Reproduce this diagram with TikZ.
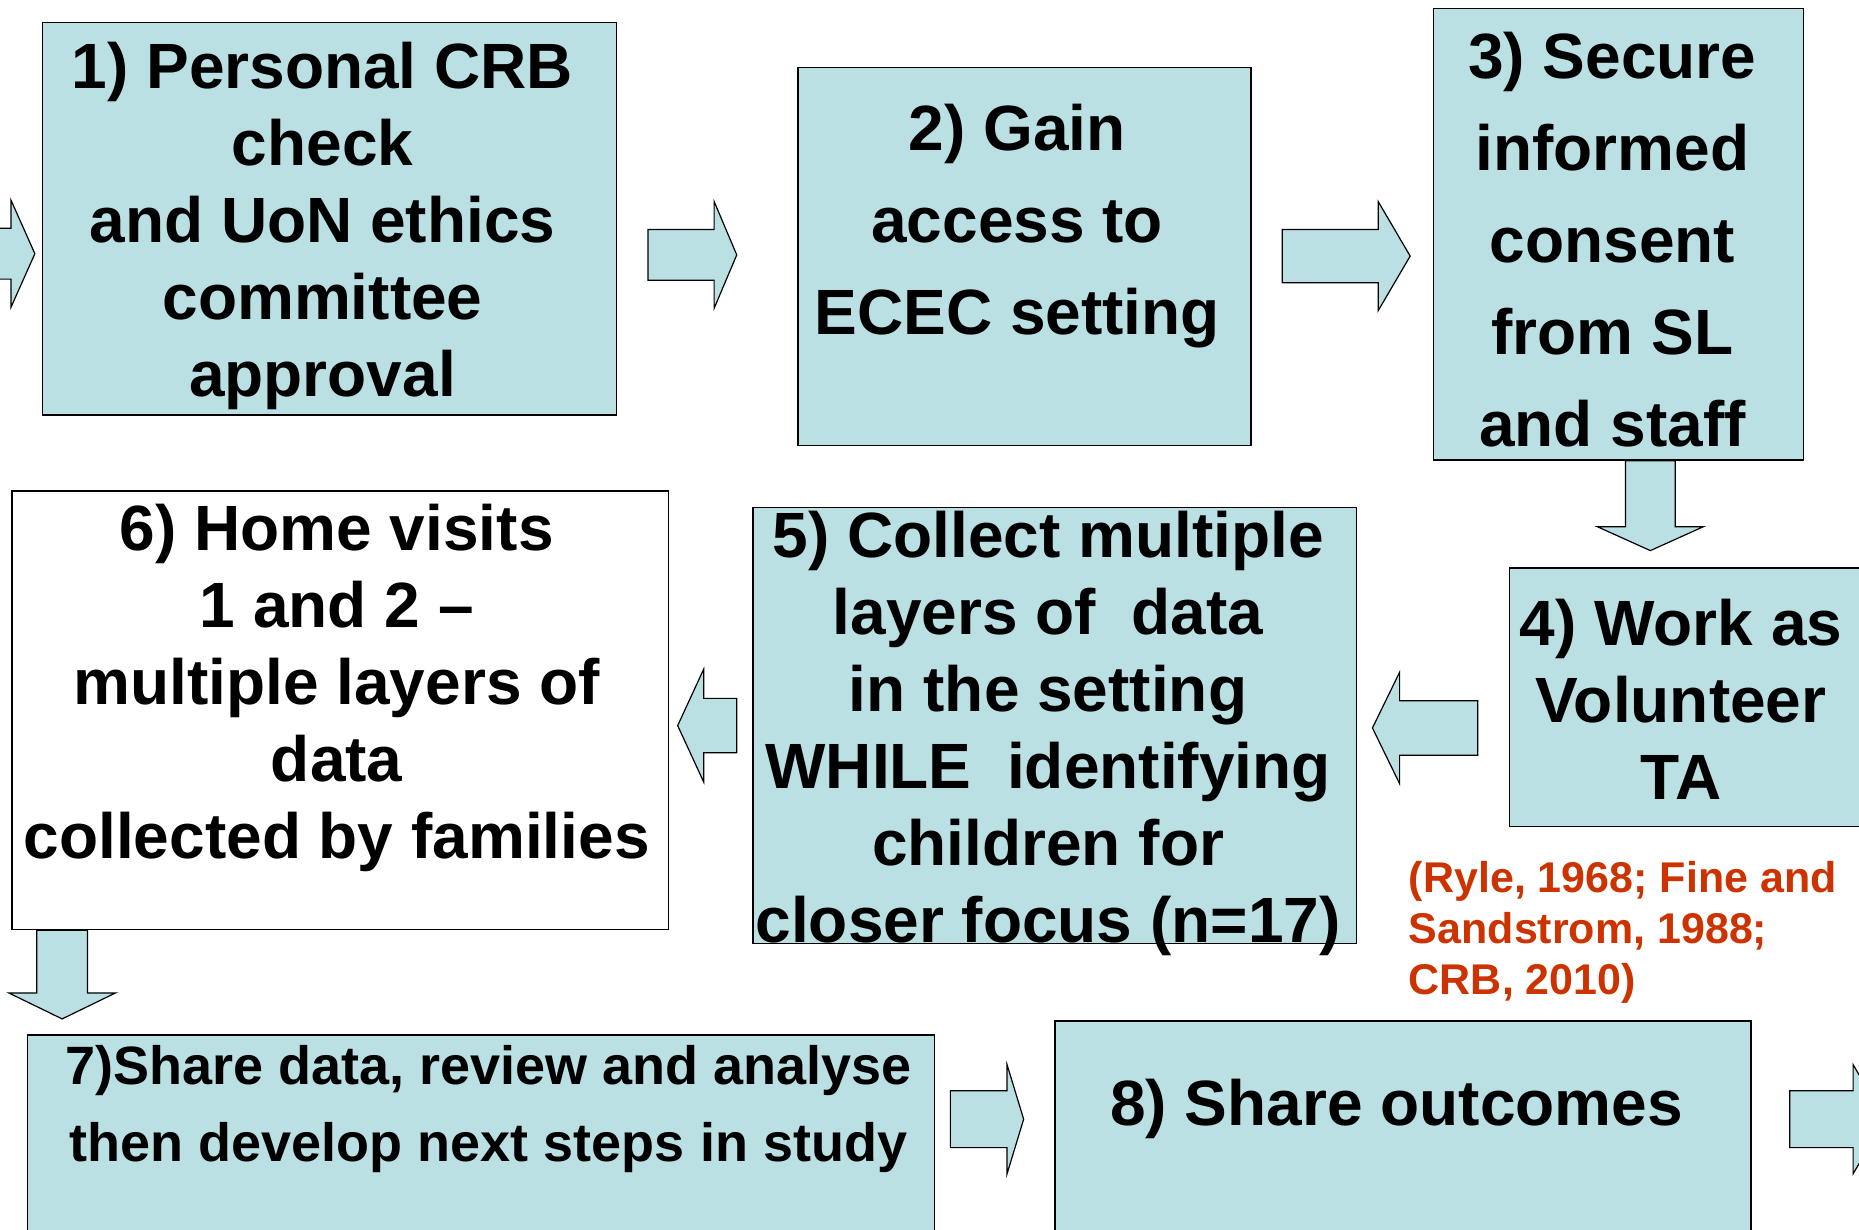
\documentclass[tikz,border=0pt]{standalone}
\usepackage{fontspec}
\setmainfont{Liberation Sans}
\usetikzlibrary{calc}

\definecolor{boxblue}{RGB}{187,224,227}
\definecolor{citered}{RGB}{204,51,0}

\tikzset{
  stepbox/.style 2 args={draw=black, line width=0.7pt, fill=boxblue, inner sep=0pt,
    minimum width={#1*0.5928pt}, minimum height={#2*0.5928pt}},
  steptext/.style={align=center, inner sep=0pt, font=\fontsize{32}{38.5}\selectfont\bfseries},
  fatarrow/.style n args={3}{draw=black, line width=0.6pt, fill=boxblue,
    to path={let \p1=(\tikztostart), \p2=(\tikztotarget),
      \n1={veclen(\x2-\x1,\y2-\y1)}, \n2={atan2(\y2-\y1,\x2-\x1)} in
      [shift={(\p1)}, rotate=\n2]
      (0pt,-#1) -- (\n1-#3,-#1) -- (\n1-#3,-#2) -- (\n1+0pt,0pt)
      -- (\n1-#3,#2) -- (\n1-#3,#1) -- (0pt,#1) -- cycle}}
}

\begin{document}
\begin{tikzpicture}[x=0.5928pt, y=-0.5928pt]
  \useasboundingbox (0,0) rectangle (1568,1037);
  \clip (0,0) rectangle (1568,1037);

  % the eight steps
  \node[stepbox={484}{331}] (s1) at (278,184.5) {};
  \node[stepbox={382}{319}] (s2) at (864,216.5) {};
  \node[stepbox={312}{381}] (s3) at (1365,197.5) {};
  \node[stepbox={327}{218}] (s4) at (1436.5,588) {};
  \node[stepbox={509}{368}] (s5) at (889.5,612) {};
  \node[stepbox={554}{370}, fill=white] (s6) at (287,599) {};
  \node[stepbox={765}{227}] (s7) at (405.5,986.5) {};
  \node[stepbox={587}{239}] (s8) at (1183.5,980.5) {};

  \node[steptext] (t1) at (272,191) {1) Personal CRB\\check\\and UoN ethics\\committee\\approval};
  \node[steptext, font=\fontsize{32}{46}\selectfont\bfseries] (t2) at (858,191)
    {2) Gain\\access to\\ECEC setting};
  \node[steptext, font=\fontsize{32}{46}\selectfont\bfseries] (t3) at (1360,202)
    {3) Secure\\informed\\consent\\from SL\\and staff};
  \node[steptext] (t4) at (1418,590) {4) Work as\\Volunteer\\TA};
  \node[steptext] (t5) at (884,619)
    {5) Collect multiple\\layers of~ data\\in the setting\\WHILE~ identifying\\children for\\closer focus (n=17)};
  \node[steptext] (t6) at (284,580)
    {6) Home visits\\1 and 2 --\\multiple layers of\\data\\collected by families};
  \node[steptext, font=\fontsize{27}{38.5}\selectfont\bfseries] (t7) at (412,935)
    {7)Share data, review and analyse\\then develop next steps in study};
  \node[steptext] (t8) at (1178,935) {8) Share outcomes};

  \node[anchor=west, align=left, inner sep=0pt, text=citered,
    font=\fontsize{21.5}{25.5}\selectfont\bfseries] (cite) at (1188,786)
    {(Ryle, 1968; Fine and\\Sandstrom, 1988;\\CRB, 2010)};

  % block arrows between the steps
  \coordinate (inL) at (-40,214);
  \coordinate (outR) at (1590,944);
  \draw[fatarrow={12.7pt}{26.7pt}{11.9pt}] (inL) to ($(s1.west)+(-6,29.5)$);
  \draw[fatarrow={12.7pt}{26.7pt}{11.3pt}] ($(s1.east)+(26,30.5)$) to ($(s2.west)+(-51,-1.5)$);
  \draw[fatarrow={13.3pt}{27.3pt}{16pt}] ($(s2.east)+(26,-0.5)$) to ($(s3.west)+(-19,18.5)$);
  \draw[fatarrow={12.4pt}{26.4pt}{11.9pt}] ($(s3.south)+(27,0)$) to ($(s4.north)+(-44.5,-14)$);
  \draw[fatarrow={13.6pt}{27.9pt}{13.6pt}] ($(s4.west)+(-26,26)$) to ($(s5.east)+(13,2)$);
  \draw[fatarrow={13.6pt}{28.2pt}{13pt}] ($(s5.west)+(-13,0)$) to ($(s6.east)+(7,13)$);
  \draw[fatarrow={12.7pt}{26.7pt}{13pt}] ($(s6.south west)+(43,0)$) to ($(s7.north west)+(30,-13)$);
  \draw[fatarrow={14.2pt}{27.3pt}{8.3pt}] ($(s7.east)+(13,-42.5)$) to ($(s8.west)+(-26,-36.5)$);
  \draw[fatarrow={14.2pt}{27.3pt}{16pt}] ($(s8.east)+(32,-36.5)$) to (outR);
\end{tikzpicture}
\end{document}
